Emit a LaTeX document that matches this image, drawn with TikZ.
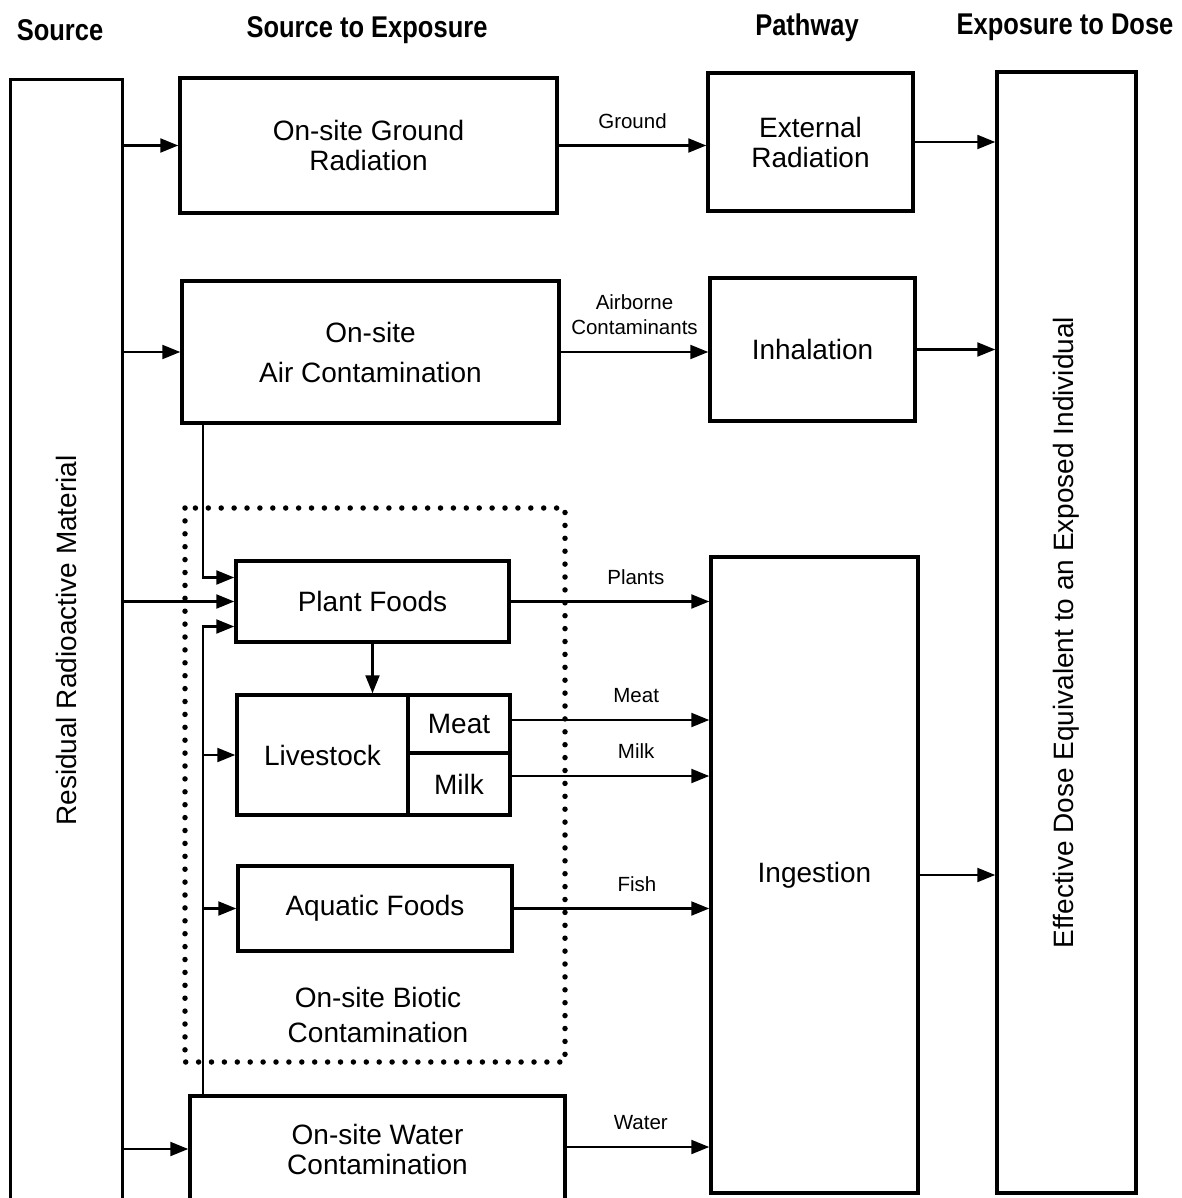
\documentclass[tikz,border=0pt]{standalone}
\usepackage{fontspec}
\setmainfont{Liberation Sans}
\newfontfamily\headfont[FakeStretch=0.85]{Liberation Sans}
\usetikzlibrary{arrows.meta}

\begin{document}
\begin{tikzpicture}[x=1pt,y=-1pt,
	>={Triangle[length=18pt,width=14pt]},
	box/.style={draw, line width=3.5pt, align=center, inner sep=0pt, font=\fontsize{28}{30}\selectfont},
	flow/.style={->, line width=2.2pt},
	lbl/.style={font=\fontsize{20.5}{25}\selectfont, align=center, inner sep=3pt, text depth=0pt, above=13pt},
	head/.style={font=\headfont\bfseries\fontsize{30}{32}\selectfont},
	dotbox/.style={line width=5.5pt, line cap=round, dash pattern=on 0pt off 12.9pt}]
			\useasboundingbox (0,0) rectangle (1181,1198);
			% column headers
			\node[head] (hsrc) at (60,30) {Source};
			\node[head] (hexp) at (367,30) {Source to Exposure};
			\node[head] (hpath) at (807,28) {Pathway};
			\node[head] (hdose) at (1065,27) {Exposure to Dose};
			% boxes
			\node[box, line width=3pt, minimum width=112pt, minimum height=1121pt] (src) at (66,640.5) {\rotatebox{90}{Residual Radioactive Material}};
			\node[box, minimum width=377pt, minimum height=135pt] (ground) at (368.5,145.5) {On-site Ground\\Radiation};
			\node[box, minimum width=377pt, minimum height=142pt, font=\fontsize{28}{40}\selectfont] (air) at (370.5,352) {On-site\\Air Contamination};
			\node[box, minimum width=273pt, minimum height=81pt] (plant) at (372.5,601.5) {Plant Foods};
			\node[box, minimum width=171pt, minimum height=120pt] (live) at (322.5,755) {Livestock};
			\node[box, minimum width=102pt, minimum height=58pt] (meat) at (459,724) {Meat};
			\node[box, minimum width=102pt, minimum height=62pt] (milk) at (459,784) {Milk};
			\node[box, minimum width=274pt, minimum height=85pt] (aqua) at (375,908.5) {Aquatic Foods};
			\node[box, minimum width=375pt, minimum height=106pt] (water) at (377.5,1149) {On-site Water\\Contamination};
			\node[box, minimum width=205pt, minimum height=138pt] (ext) at (810.5,142) {External\\Radiation};
			\node[box, minimum width=205pt, minimum height=143pt] (inh) at (812.5,349.5) {Inhalation};
			\node[box, minimum width=207pt, minimum height=636pt] (ing) at (814.5,875) {\raisebox{-7pt}{Ingestion}};
			\node[box, minimum width=139pt, minimum height=1121pt] (dose) at (1066.5,632.5) {\rotatebox{90}{Effective Dose Equivalent to an Exposed Individual}};
			% biotic group
			\draw[dotbox] (185,508) rectangle (565,1062);
			\node[align=center, font=\fontsize{28}{35}\selectfont] (biolbl) at (378,1015) {On-site Biotic\\Contamination};
			% source to exposure
			\draw[flow] (src.east |- ground.west) -- (ground.west);
			\draw[flow] (src.east |- air.west) -- (air.west);
			\draw[flow] (src.east |- plant.west) -- (plant.west);
			\draw[flow] (src.east |- water.west) -- (water.west);
			% feeds into the food chain
			\coordinate (tap) at (203,0);
			\draw[flow] (tap |- air.south) |- ([yshift=24pt]plant.west);
			\draw[flow] (tap |- water.north) |- ([yshift=-25pt]plant.west);
			\draw[flow] (tap |- live.west) -- (live.west);
			\draw[flow] (tap |- aqua.west) -- (aqua.west);
			\draw[flow] (plant.south) -- (plant.south |- live.north);
			% exposure to pathway
			\draw[flow] (ground.east) -- node[lbl, pos=0.5] {Ground} (ground.east -| ext.west);
			\draw[flow] (air.east) -- node[lbl, pos=0.5] {Airborne\\Contaminants} (air.east -| inh.west);
			\draw[flow] (plant.east) -- node[lbl, pos=0.63] {Plants} (plant.east -| ing.west);
			\draw[flow] ([yshift=4pt]meat.east) -- node[lbl, pos=0.63] {Meat} ([yshift=4pt]meat.east -| ing.west);
			\draw[flow] ([yshift=8pt]milk.east) -- node[lbl, pos=0.63] {Milk} ([yshift=8pt]milk.east -| ing.west);
			\draw[flow] (aqua.east) -- node[lbl, pos=0.63] {Fish} (aqua.east -| ing.west);
			\draw[flow] ([yshift=2pt]water.east) -- node[lbl, pos=0.52] {Water} ([yshift=2pt]water.east -| ing.west);
			% pathway to dose
			\draw[flow] (ext.east) -- (ext.east -| dose.west);
			\draw[flow] (inh.east) -- (inh.east -| dose.west);
			\draw[flow] (ing.east) -- (ing.east -| dose.west);
		\end{tikzpicture}
\end{document}
